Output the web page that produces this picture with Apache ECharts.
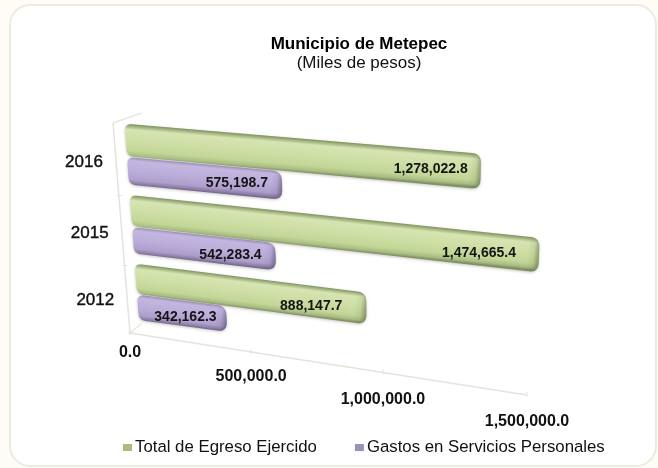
<!DOCTYPE html>
<html>
<head>
<meta charset="utf-8">
<title>Municipio de Metepec</title>
<script src="https://cdn.jsdelivr.net/npm/echarts@6/dist/echarts.min.js"></script>
<style>
    html, body { margin: 0; padding: 0; background: #fefcf5; }
    #chart { width: 658px; height: 468px; }
</style>
</head>
<body>
<div id="chart"></div>
<script>
const years = ['2016', '2015', '2012'];
const totalEgreso = [1278022.8, 1474665.4, 888147.7];
const gastosPersonales = [575198.7, 542283.4, 342162.3];
const totalLabels = ['1,278,022.8', '1,474,665.4', '888,147.7'];
const gastosLabels = ['575,198.7', '542,283.4', '342,162.3'];
const valueTicks = [0, 500000, 1000000, 1500000];
const tickLabels = ['0.0', '500,000.0', '1,000,000.0', '1,500,000.0'];

const FONT = '"Liberation Sans", Arial, sans-serif';

// gap between the end of a bar and its label
const totalInset = [13, 23, 24];
const gastosInset = [14, 14, 10];
// how far a tick label hangs under the axis
const tickDrop = [20, 25, 27, 27];

// the flat grid gets projected on these two planes to fake the 3D view
const barPlane = squareToQuad([[124, 115], [551, 150], [542, 379], [139, 322]]);
const wallPlane = squareToQuad([[113, 123], [533, 158], [527, 395], [130, 333]]);

function squareToQuad(q) {
    const dx1 = q[1][0] - q[2][0], dx2 = q[3][0] - q[2][0], sx = q[0][0] - q[1][0] + q[2][0] - q[3][0];
    const dy1 = q[1][1] - q[2][1], dy2 = q[3][1] - q[2][1], sy = q[0][1] - q[1][1] + q[2][1] - q[3][1];
    const den = dx1 * dy2 - dx2 * dy1;
    const g = (sx * dy2 - dx2 * sy) / den;
    const h = (dx1 * sy - sx * dy1) / den;
    const a = q[1][0] - q[0][0] + g * q[1][0], b = q[3][0] - q[0][0] + h * q[3][0];
    const d = q[1][1] - q[0][1] + g * q[1][1], e = q[3][1] - q[0][1] + h * q[3][1];
    return function (s, t) {
        const w = g * s + h * t + 1;
        return [(a * s + b * t + q[0][0]) / w, (d * s + e * t + q[0][1]) / w];
    };
}

function unit(params, p) {
    const cs = params.coordSys;
    return [(p[0] - cs.x) / cs.width, (p[1] - cs.y) / cs.height];
}

// polygon with rounded corners, the corners are sampled
function roundedPoints(pts, radii) {
    const out = [];
    pts.forEach((p, i) => {
        const prev = pts[(i + pts.length - 1) % pts.length], next = pts[(i + 1) % pts.length];
        const lp = Math.hypot(prev[0] - p[0], prev[1] - p[1]), ln = Math.hypot(next[0] - p[0], next[1] - p[1]);
        const r = Math.min(radii[i], lp / 2, ln / 2);
        const a = [p[0] + (prev[0] - p[0]) * r / lp, p[1] + (prev[1] - p[1]) * r / lp];
        const b = [p[0] + (next[0] - p[0]) * r / ln, p[1] + (next[1] - p[1]) * r / ln];
        for (let k = 0; k <= 6; k++) {
            const u = k / 6;
            out.push([
                (1 - u) * (1 - u) * a[0] + 2 * u * (1 - u) * p[0] + u * u * b[0],
                (1 - u) * (1 - u) * a[1] + 2 * u * (1 - u) * p[1] + u * u * b[1]
            ]);
        }
    });
    return out;
}

function barRenderer(from, to, stops, capColor, labels, inset, capDepth) {
    return function (params, api) {
        const i = params.dataIndex;
        const c = unit(params, api.coord([api.value(0), api.value(1)]));
        const band = api.size([0, 1])[1] / params.coordSys.height;
        const t1 = c[1] + from * band, t2 = c[1] + to * band;
        const s0 = unit(params, api.coord([0, api.value(1)]))[0];
        const tl = barPlane(s0, t1), bl = barPlane(s0, t2);
        const tr = barPlane(c[0], t1), br = barPlane(c[0], t2);
        tr[0] += capDepth;
        br[0] += capDepth;
        const outline = roundedPoints([tl, tr, br, bl], [7, 9, 10, 7]);

        // shading runs across the bar, square to its direction
        const len = Math.hypot(tr[0] - tl[0], tr[1] - tl[1]);
        const ux = (tr[0] - tl[0]) / len, uy = (tr[1] - tl[1]) / len;
        const mx = (tl[0] + tr[0]) / 2, my = (tl[1] + tr[1]) / 2;
        const thick = ((bl[1] + br[1]) - (tl[1] + tr[1])) / 2 * ux;
        const endX = (tr[0] + br[0]) / 2, endY = (tr[1] + br[1]) / 2;

        return {
            type: 'group',
            children: [
                {
                    type: 'polygon',
                    shape: { points: outline },
                    style: {
                        fill: { type: 'linear', global: true, x: mx, y: my, x2: mx - uy * thick, y2: my + ux * thick, colorStops: stops },
                        shadowBlur: 3, shadowColor: 'rgba(60,60,50,0.3)', shadowOffsetY: 1
                    }
                },
                {
                    type: 'polygon',
                    shape: { points: outline },
                    style: {
                        fill: {
                            type: 'linear', global: true, x: endX - 12 * ux, y: endY - 12 * uy, x2: endX, y2: endY,
                            colorStops: [{ offset: 0, color: capColor + '0)' }, { offset: 0.55, color: capColor + '0.1)' }, { offset: 1, color: capColor + '0.5)' }]
                        }
                    }
                },
                {
                    type: 'text',
                    style: {
                        text: labels[i], x: endX - inset[i], y: endY - 2, align: 'right', verticalAlign: 'middle',
                        font: 'bold 14px ' + FONT, fill: '#141414'
                    }
                }
            ]
        };
    };
}

function renderValueTick(params, api) {
    const i = params.dataIndex;
    const u = unit(params, api.coord([api.value(0), 0]));
    const p = wallPlane(u[0], 1);
    const children = [{
        type: 'text',
        style: {
            text: tickLabels[i], x: p[0], y: p[1] + tickDrop[i], align: 'center', verticalAlign: 'middle',
            font: 'bold 16px ' + FONT, fill: '#111'
        }
    }, {
        type: 'line',
        shape: { x1: p[0], y1: p[1] - 3, x2: p[0], y2: p[1] + 2 },
        style: { stroke: '#e3e4da', lineWidth: 1 }
    }];
    if (i > 0) {
        const q = wallPlane(unit(params, api.coord([valueTicks[i - 1], 0]))[0], 1);
        children.push({
            type: 'line',
            shape: { x1: q[0], y1: q[1], x2: p[0], y2: p[1] },
            style: { stroke: '#e3e4da', lineWidth: 1.5 }
        });
    } else {
        // short floor edge going back
        children.push({
            type: 'line',
            shape: { x1: p[0], y1: p[1], x2: p[0] + 12, y2: p[1] - 10 },
            style: { stroke: '#e8e8e0', lineWidth: 1.5 }
        });
    }
    return { type: 'group', children: children };
}

function renderYear(params, api) {
    const i = params.dataIndex;
    const c = unit(params, api.coord([0, api.value(0)]));
    const band = api.size([0, 1])[1] / params.coordSys.height;
    const top = wallPlane(0, c[1] - band / 2), mid = wallPlane(0, c[1]), bot = wallPlane(0, c[1] + band / 2);
    const children = [{
        type: 'text',
        style: {
            text: years[i], x: mid[0] - 32, y: mid[1] + 3 - i, align: 'center', verticalAlign: 'middle',
            font: '17px ' + FONT, fill: '#111', stroke: '#111', lineWidth: 0.4
        }
    }, {
        type: 'line',
        shape: { x1: top[0], y1: top[1], x2: bot[0], y2: bot[1] },
        style: { stroke: '#e3e4da', lineWidth: 1.5 }
    }, {
        type: 'line',
        shape: { x1: bot[0] - 2, y1: bot[1], x2: bot[0] + 3, y2: bot[1] },
        style: { stroke: '#e3e4da', lineWidth: 1 }
    }];
    if (i === 0) {
        children.push({
            type: 'line',
            shape: { x1: top[0], y1: top[1], x2: top[0] + 29, y2: top[1] - 10 },
            style: { stroke: '#e8e8e0', lineWidth: 1.5 }
        });
    }
    return { type: 'group', children: children };
}

const greenStops = [
    { offset: 0, color: '#7f9160' }, { offset: 0.05, color: '#9aad78' }, { offset: 0.16, color: '#d6e4b2' },
    { offset: 0.45, color: '#cfdfa6' }, { offset: 0.78, color: '#c2d697' }, { offset: 0.92, color: '#a9bc82' }, { offset: 1, color: '#7f8f62' }
];
const purpleStops = [
    { offset: 0, color: '#a99bc6' }, { offset: 0.12, color: '#c3b6e0' }, { offset: 0.5, color: '#bbadda' },
    { offset: 0.8, color: '#ad9ecb' }, { offset: 0.93, color: '#8b7da5' }, { offset: 1, color: '#6f6387' }
];

const chartOption = {
    animation: false,
    title: {
        text: 'Municipio de Metepec',
        subtext: '(Miles de pesos)',
        left: 354,
        top: 31,
        textAlign: 'center',
        itemGap: 2,
        textStyle: { fontFamily: 'Liberation Sans', fontSize: 17, fontWeight: 'bold', color: '#000' },
        subtextStyle: { fontFamily: 'Liberation Sans', fontSize: 17, color: '#111' }
    },
    legend: {
        data: ['Total de Egreso Ejercido', 'Gastos en Servicios Personales'],
        left: 118,
        top: 434,
        icon: 'rect',
        itemWidth: 9,
        itemHeight: 7,
        itemGap: 38,
        textStyle: { fontFamily: 'Liberation Sans', fontSize: 16.8, color: '#111', padding: [0, 0, 0, -2] }
    },
    graphic: [{
        type: 'rect',
        z: -10,
        shape: { x: 10, y: 5, width: 646, height: 461, r: 20 },
        style: { fill: '#fff', stroke: '#ecebe2', lineWidth: 2 }
    }],
    grid: { left: 124, top: 115, width: 420, height: 210 },
    xAxis: { type: 'value', min: 0, max: 1500000, interval: 500000, show: false },
    yAxis: { type: 'category', data: years, inverse: true, show: false },
    series: [
        {
            name: 'wall-values', type: 'custom', z: 1, clip: false, silent: true,
            data: valueTicks.map(v => [v]),
            encode: { x: 0 },
            renderItem: renderValueTick
        },
        {
            name: 'wall-years', type: 'custom', z: 1, clip: false, silent: true,
            data: years.map((y, i) => [i]),
            encode: { y: 0 },
            renderItem: renderYear
        },
        {
            name: 'Gastos en Servicios Personales', type: 'custom', z: 2, clip: false,
            itemStyle: { color: '#9d90bd' },
            data: gastosPersonales.map((v, i) => [v, i]),
            encode: { x: 0, y: 1 },
            renderItem: barRenderer(0.085, 0.47, purpleStops, 'rgba(70,60,95,', gastosLabels, gastosInset, 4)
        },
        {
            name: 'Total de Egreso Ejercido', type: 'custom', z: 3, clip: false,
            itemStyle: { color: '#a9bc80' },
            data: totalEgreso.map((v, i) => [v, i]),
            encode: { x: 0, y: 1 },
            renderItem: barRenderer(-0.38, 0.07, greenStops, 'rgba(75,90,50,', totalLabels, totalInset, 0)
        }
    ]
};

const myChart = echarts.init(document.getElementById('chart'));
myChart.setOption(chartOption);
</script>
</body>
</html>
